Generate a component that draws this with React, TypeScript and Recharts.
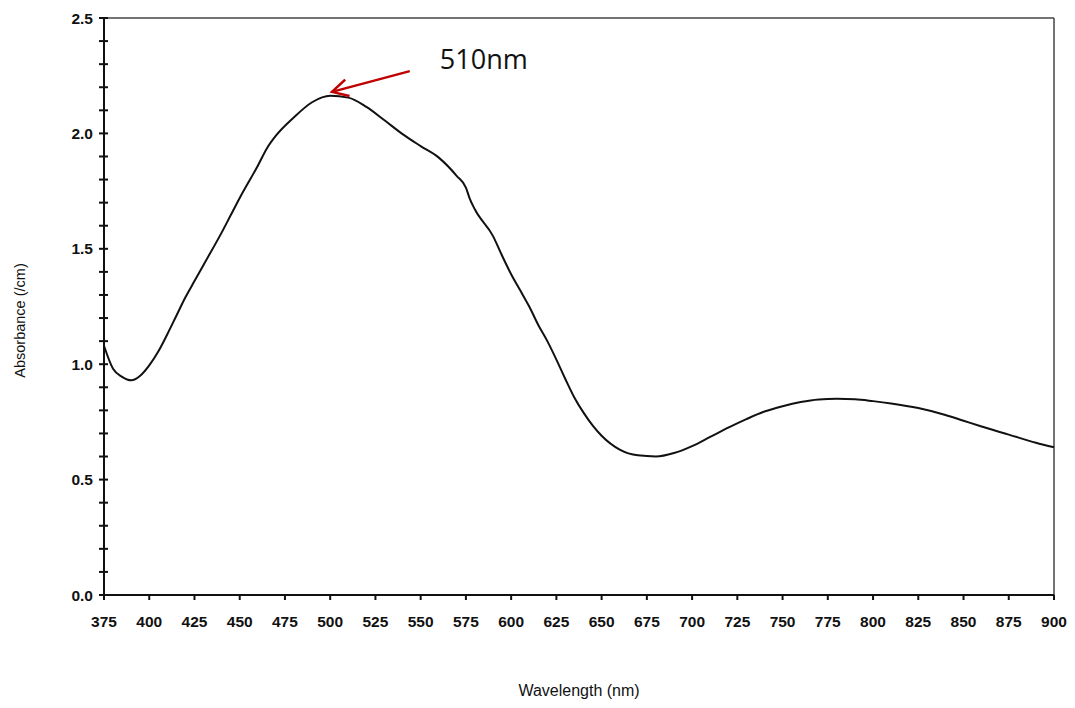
import {
  LineChart,
  Line,
  XAxis,
  YAxis,
  ReferenceLine,
  Label,
} from "recharts";

const wavelengths = [
  375, 380, 385, 390, 395, 400, 405, 410, 415, 420, 425, 430, 440, 445, 450,
  460, 465, 470, 480, 490, 500, 510, 520, 530, 540, 550, 560, 570, 575, 577,
  580, 590, 595, 600, 605, 610, 615, 620, 625, 630, 635, 640, 645, 650, 660,
  670, 680, 690, 700, 710, 720, 730, 740, 750, 760, 770, 780, 790, 800, 810,
  825, 840, 850, 860, 875, 890, 900,
];

const absorbance = [
  1.08, 0.98, 0.945, 0.93, 0.95, 0.995, 1.055, 1.13, 1.21, 1.29, 1.36, 1.43,
  1.57, 1.645, 1.72, 1.86, 1.935, 1.99, 2.07, 2.135, 2.163, 2.155, 2.115,
  2.057, 1.997, 1.945, 1.895, 1.815, 1.765, 1.72, 1.67, 1.555, 1.47, 1.39,
  1.32, 1.25, 1.17, 1.1, 1.02, 0.935, 0.855, 0.79, 0.735, 0.69, 0.63, 0.605,
  0.6, 0.615, 0.645, 0.685, 0.725, 0.762, 0.795, 0.818, 0.836, 0.847, 0.85,
  0.848, 0.84, 0.83, 0.81, 0.78, 0.755, 0.73, 0.695, 0.66, 0.64,
];

const xTicks = [
  375, 400, 425, 450, 475, 500, 525, 550, 575, 600, 625, 650, 675, 700, 725,
  750, 775, 800, 825, 850, 875, 900,
];

// every 0.1, labels only on the 0.5 steps
const yTicks = [
  0, 0.1, 0.2, 0.3, 0.4, 0.5, 0.6, 0.7, 0.8, 0.9, 1.0, 1.1, 1.2, 1.3, 1.4, 1.5,
  1.6, 1.7, 1.8, 1.9, 2.0, 2.1, 2.2, 2.3, 2.4, 2.5,
];

const peakLabel = "510nm";
const arrowTail = { x: 544, y: 2.27 };
const arrowHead = { x: 501, y: 2.18 };

const data = wavelengths.map((w, i) => ({ w, a: absorbance[i] }));

const tickFont = "'Liberation Sans', Arial, sans-serif";

const YTick = (props: any) => {
  const { x, y, payload } = props;
  const v = payload.value;
  const major = Math.abs(v * 2 - Math.round(v * 2)) < 1e-6;
  return (
    <g>
      <line x1={x - 5} x2={x + 4} y1={y} y2={y} stroke="#111" strokeWidth={2} />
      {major && (
        <text
          x={x - 11}
          y={y}
          textAnchor="end"
          dominantBaseline="central"
          fontFamily={tickFont}
          fontWeight="bold"
          fontSize={15.5}
          fill="#111"
        >
          {v.toFixed(1)}
        </text>
      )}
    </g>
  );
};

const ArrowShape = (props: any) => {
  const { x1, y1, x2, y2 } = props;
  // x1,y1 = tail, x2,y2 = head
  const dx = x1 - x2;
  const dy = y1 - y2;
  const len = Math.sqrt(dx * dx + dy * dy);
  const ux = dx / len;
  const uy = dy / len;
  const armLen = 18;
  const ang = (28 * Math.PI) / 180;
  const a1x = x2 + armLen * (ux * Math.cos(ang) - uy * Math.sin(ang));
  const a1y = y2 + armLen * (ux * Math.sin(ang) + uy * Math.cos(ang));
  const a2x = x2 + armLen * (ux * Math.cos(-ang) - uy * Math.sin(-ang));
  const a2y = y2 + armLen * (ux * Math.sin(-ang) + uy * Math.cos(-ang));
  return (
    <g>
      <line x1={x1} y1={y1} x2={x2} y2={y2} stroke="#C00000" strokeWidth={2.5} />
      <polyline
        points={`${a1x},${a1y} ${x2},${y2} ${a2x},${a2y}`}
        fill="none"
        stroke="#C00000"
        strokeWidth={2.5}
      />
      <text
        x={x1 + 30}
        y={y1 - 2}
        fontFamily="'Open Sans', 'Noto Sans', sans-serif"
        fontSize={28}
        fill="#111"
        textLength={88}
        lengthAdjust="spacingAndGlyphs"
      >
        {peakLabel}
      </text>
    </g>
  );
};

const YAxisLabel = (props: any) => {
  const { viewBox } = props;
  const cx = viewBox.x + 12;
  const cy = viewBox.y + viewBox.height / 2 + 14;
  return (
    <text
      x={cx}
      y={cy}
      transform={`rotate(-90, ${cx}, ${cy})`}
      textAnchor="middle"
      dominantBaseline="central"
      fontFamily={tickFont}
      fontSize={14.5}
      fill="#111"
    >
      Absorbance (/cm)
    </text>
  );
};

export default function App() {
  return (
    <div style={{ background: "#fff" }}>
      <LineChart
        width={1067}
        height={700}
        data={data}
        margin={{ top: 10, right: 21, left: 0, bottom: 0 }}
      >
        <XAxis
          dataKey="w"
          type="number"
          domain={[375, 900]}
          ticks={xTicks}
          interval={0}
          height={113}
          tickSize={5}
          tickMargin={16}
          axisLine={{ stroke: "#111", strokeWidth: 2 }}
          tickLine={{ stroke: "#111", strokeWidth: 2 }}
          tick={{
            fill: "#111",
            fontSize: 15.5,
            fontWeight: "bold",
            fontFamily: tickFont,
          }}
        >
          <Label
            value="Wavelength (nm)"
            position="insideBottom"
            offset={12}
            style={{
              fill: "#111",
              fontSize: 16,
              fontFamily: tickFont,
            }}
          />
        </XAxis>
        <YAxis
          type="number"
          domain={[0, 2.5]}
          ticks={yTicks}
          interval={0}
          width={96}
          tickSize={0}
          tickMargin={0}
          tickLine={false}
          axisLine={{ stroke: "#111", strokeWidth: 2 }}
          tick={<YTick />}
        >
          <Label content={<YAxisLabel />} />
        </YAxis>
        <ReferenceLine y={2.5} stroke="#444" strokeWidth={1.5} />
        <ReferenceLine x={900} stroke="#444" strokeWidth={1.5} />
        <Line
          dataKey="a"
          type="monotone"
          stroke="#111"
          strokeWidth={2}
          dot={false}
          isAnimationActive={false}
        />
        <ReferenceLine
          segment={[arrowTail, arrowHead]}
          shape={<ArrowShape />}
        />
      </LineChart>
    </div>
  );
}
